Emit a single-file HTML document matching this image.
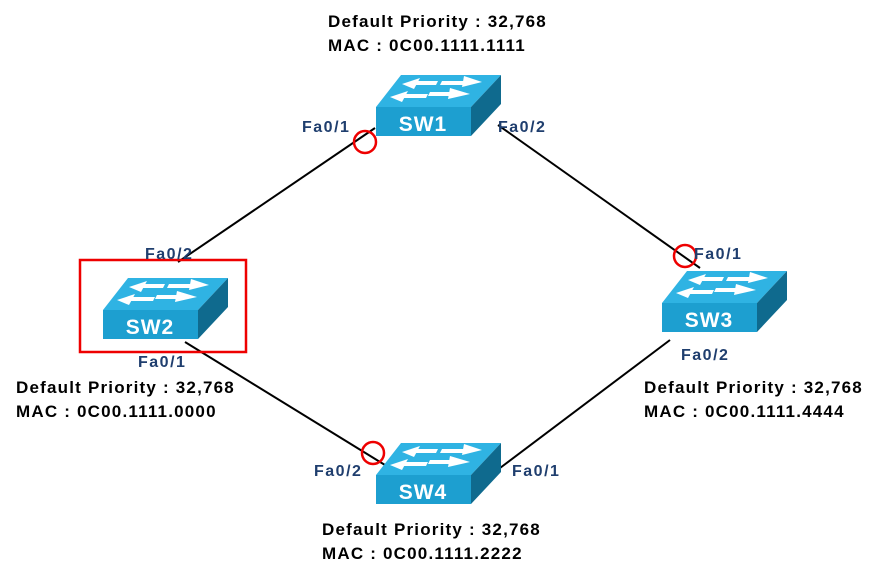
<!DOCTYPE html>
<html><head><style>body{margin:0;background:#fff}svg{display:block}text{font-family:"Liberation Sans","Noto Sans CJK KR",sans-serif;font-weight:bold}</style></head><body>
<svg width="882" height="571" viewBox="0 0 882 571">
<defs>
<g id="sw">
<polygon points="0,0 25,-32 125,-32 95,0" fill="#2fb3e3"/>
<polygon points="95,0 125,-32 125,-3 95,29" fill="#0f6a8e"/>
<rect x="0" y="0" width="95" height="29" fill="#1d9fd0"/>
<g fill="#fff">
<polygon points="40,-26 62,-26 60,-22 38,-22"/><polygon points="44,-29 26,-23 38,-18"/>
<polygon points="66,-26 92,-26 90,-22 64,-22"/><polygon points="88,-31 106,-25 86,-20"/>
<polygon points="28,-13 52,-13 50,-9 26,-9"/><polygon points="32,-16 14,-10 26,-5"/>
<polygon points="54,-15 78,-15 76,-11 52,-11"/><polygon points="74,-19 94,-13 72,-8"/>
</g>
</g>
</defs>
<g stroke="#000" stroke-width="2">
<line x1="375" y1="128" x2="178" y2="262"/>
<line x1="498" y1="125" x2="700" y2="268"/>
<line x1="185" y1="342" x2="385" y2="465"/>
<line x1="670" y1="340" x2="500" y2="468"/>
</g>
<use href="#sw" x="376" y="107"/>
<use href="#sw" x="103" y="310"/>
<use href="#sw" x="662" y="303"/>
<use href="#sw" x="376" y="475"/>
<g fill="#fff" font-size="21" text-anchor="middle" letter-spacing="1">
<text x="423" y="131">SW1</text><text x="150" y="334">SW2</text><text x="709" y="327">SW3</text><text x="423" y="499">SW4</text>
</g>
<g fill="none" stroke="#e00" stroke-width="2.5">
<circle cx="365" cy="142" r="11"/><circle cx="685" cy="256" r="11"/><circle cx="373" cy="453" r="11"/>
<rect x="80" y="260" width="166" height="92"/>
</g>
<g fill="#1f3e6e" font-size="16" letter-spacing="1.5">
<text x="302" y="132">Fa0/1</text><text x="498" y="132">Fa0/2</text>
<text x="145" y="259">Fa0/2</text><text x="138" y="367">Fa0/1</text>
<text x="694" y="259">Fa0/1</text><text x="681" y="360">Fa0/2</text>
<text x="314" y="476">Fa0/2</text><text x="512" y="476">Fa0/1</text>
</g>
<g fill="#000" font-size="17" letter-spacing="1.2">
<text x="328" y="27">Default Priority : 32,768</text><text x="328" y="51">MAC : 0C00.1111.1111</text>
<text x="16" y="393">Default Priority : 32,768</text><text x="16" y="417">MAC : 0C00.1111.0000</text>
<text x="644" y="393">Default Priority : 32,768</text><text x="644" y="417">MAC : 0C00.1111.4444</text>
<text x="322" y="535">Default Priority : 32,768</text><text x="322" y="559">MAC : 0C00.1111.2222</text>
</g>
</svg>
</body></html>
